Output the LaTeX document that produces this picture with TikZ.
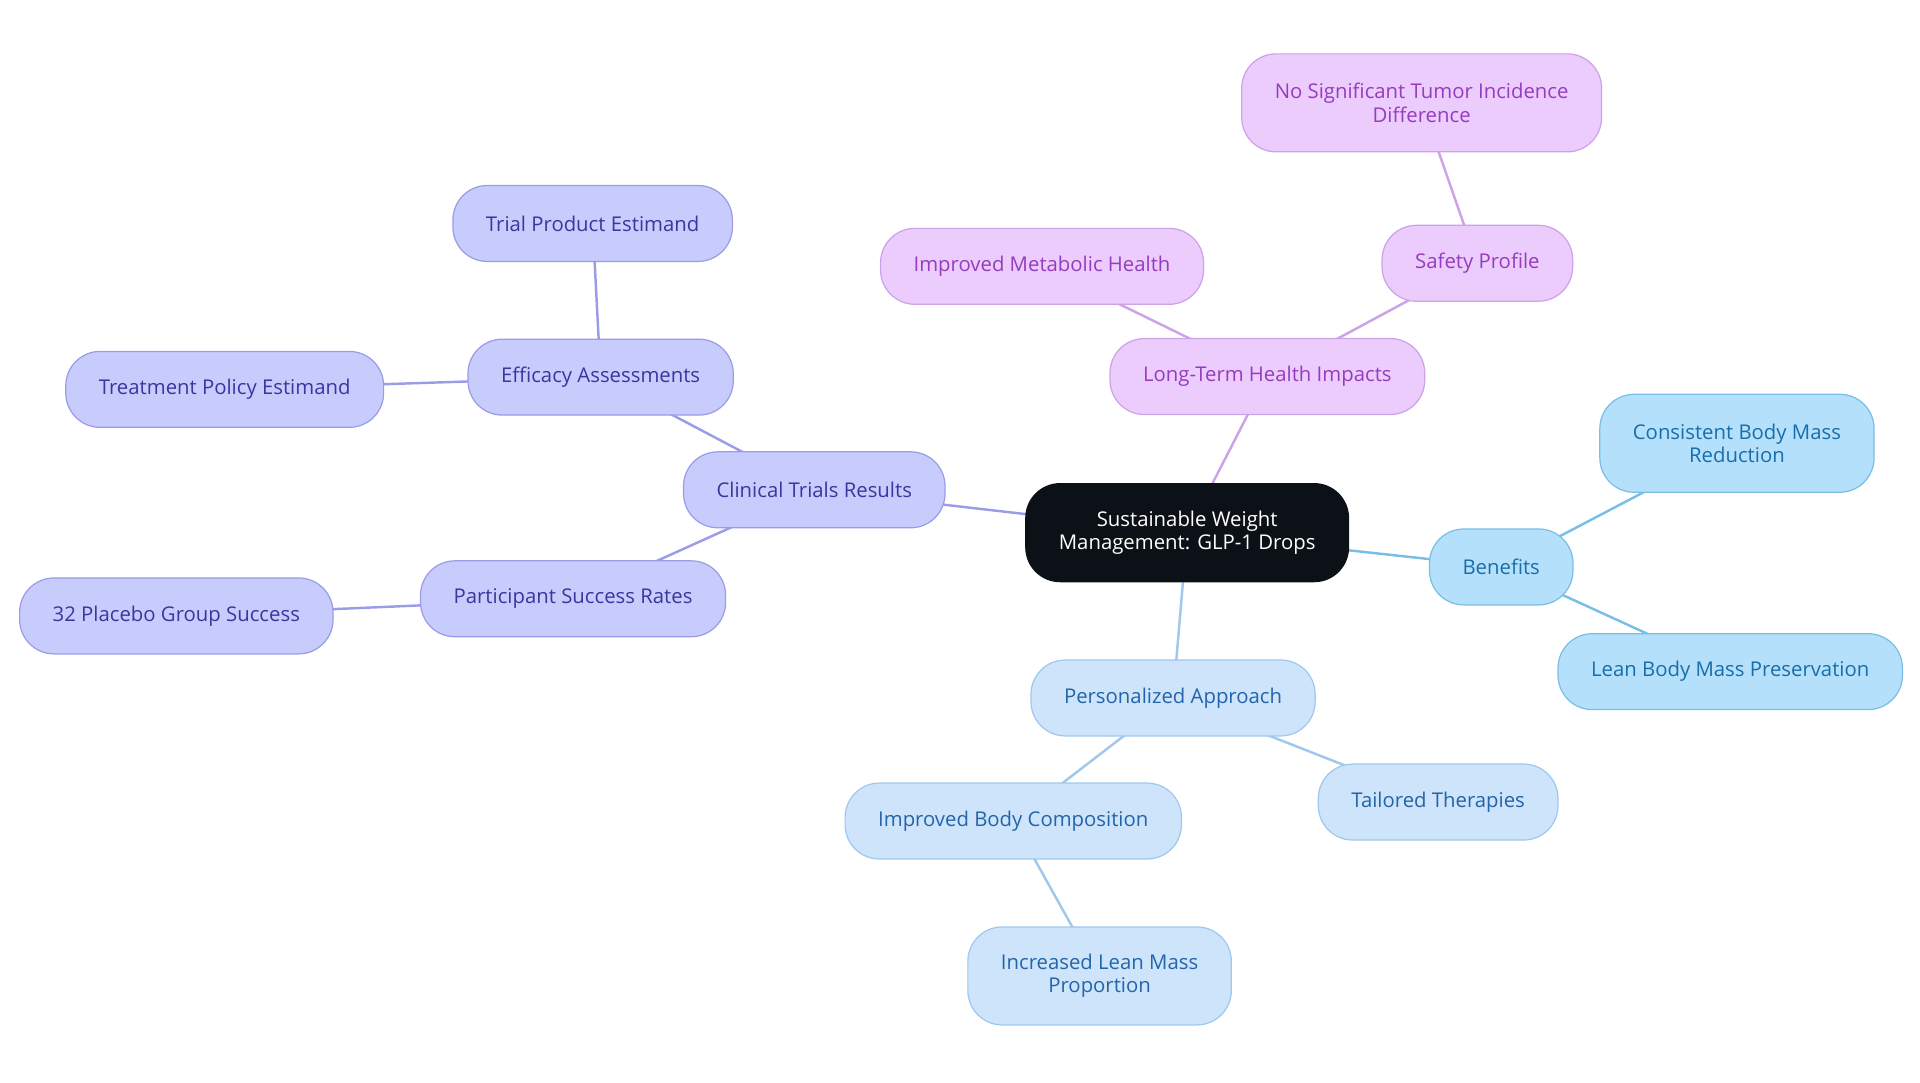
\documentclass[tikz,border=0pt]{standalone}
\usepackage{fontspec}
\setmainfont{Open Sans}
\usetikzlibrary{backgrounds}

\definecolor{trialfill}{RGB}{200,204,253}
\definecolor{trialline}{RGB}{155,156,230}
\definecolor{trialtext}{RGB}{55,55,160}
\definecolor{healthfill}{RGB}{236,204,252}
\definecolor{healthline}{RGB}{204,162,232}
\definecolor{healthtext}{RGB}{150,60,190}
\definecolor{benefitfill}{RGB}{180,224,251}
\definecolor{benefitline}{RGB}{122,190,230}
\definecolor{benefittext}{RGB}{25,110,170}
\definecolor{careline}{RGB}{160,200,236}
\definecolor{carefill}{RGB}{206,228,251}
\definecolor{caretext}{RGB}{35,100,170}
\definecolor{rootfill}{RGB}{12,17,24}

\begin{document}
\begin{tikzpicture}[x=1pt,y=-1pt,
    box/.style={rounded corners=28pt, draw, line width=1pt, align=center,
        inner xsep=27pt, inner ysep=0pt, minimum height=62pt,
        font=\fontsize{16.6}{19}\selectfont},
    tall/.style={box, minimum height=80pt},
    trial/.style={fill=trialfill, draw=trialline, text=trialtext},
    health/.style={fill=healthfill, draw=healthline, text=healthtext},
    benefit/.style={fill=benefitfill, draw=benefitline, text=benefittext},
    care/.style={fill=carefill, draw=careline, text=caretext},
    link/.style={line width=2pt}
]

    \useasboundingbox (0,0) rectangle (1568,884);

    \node[tall, fill=rootfill, draw=rootfill, text=white] at (969.5,435) (root) {Sustainable Weight\\Management: GLP-1 Drops};

    \node[box, trial] at (665,400) (clinical) {Clinical Trials Results};
    \node[box, trial] at (490.5,308) (efficacy) {Efficacy Assessments};
    \node[box, trial] at (484,182.5) (product) {Trial Product Estimand};
    \node[box, trial] at (183.5,318) (policy) {Treatment Policy Estimand};
    \node[box, trial] at (468,489) (success) {Participant Success Rates};
    \node[box, trial] at (144,503) (placebo) {32 Placebo Group Success};

    \node[box, health] at (1035,307.5) (longterm) {Long-Term Health Impacts};
    \node[box, health] at (851,217.5) (metabolic) {Improved Metabolic Health};
    \node[box, health] at (1206.5,215) (safety) {Safety Profile};
    \node[tall, health] at (1161,84) (tumor) {No Significant Tumor Incidence\\Difference};

    \node[box, benefit] at (1226,463) (benefits) {Benefits};
    \node[tall, benefit] at (1418.5,362) (consistent) {Consistent Body Mass\\Reduction};
    \node[box, benefit] at (1413,548.5) (lean) {Lean Body Mass Preservation};

    \node[box, care] at (958,570) (personal) {Personalized Approach};
    \node[box, care] at (1174.5,655) (tailored) {Tailored Therapies};
    \node[box, care] at (827.5,670.5) (composition) {Improved Body Composition};
    \node[tall, care] at (898,797) (proportion) {Increased Lean Mass\\Proportion};

    \begin{scope}[on background layer]
    \draw[link, trialline] (root.center) -- (clinical.center);
    \draw[link, trialline] (clinical.center) -- (efficacy.center);
    \draw[link, trialline] (efficacy.center) -- (product.center);
    \draw[link, trialline] (efficacy.center) -- (policy.center);
    \draw[link, trialline] (clinical.center) -- (success.center);
    \draw[link, trialline] (success.center) -- (placebo.center);

    \draw[link, healthline] (root.center) -- (longterm.center);
    \draw[link, healthline] (longterm.center) -- (metabolic.center);
    \draw[link, healthline] (longterm.center) -- (safety.center);
    \draw[link, healthline] (safety.center) -- (tumor.center);

    \draw[link, benefitline] (root.center) -- (benefits.center);
    \draw[link, benefitline] (benefits.center) -- (consistent.center);
    \draw[link, benefitline] (benefits.center) -- (lean.center);

    \draw[link, careline] (root.center) -- (personal.center);
    \draw[link, careline] (personal.center) -- (tailored.center);
    \draw[link, careline] (personal.center) -- (composition.center);
    \draw[link, careline] (composition.center) -- (proportion.center);
    \end{scope}

\end{tikzpicture}
\end{document}
